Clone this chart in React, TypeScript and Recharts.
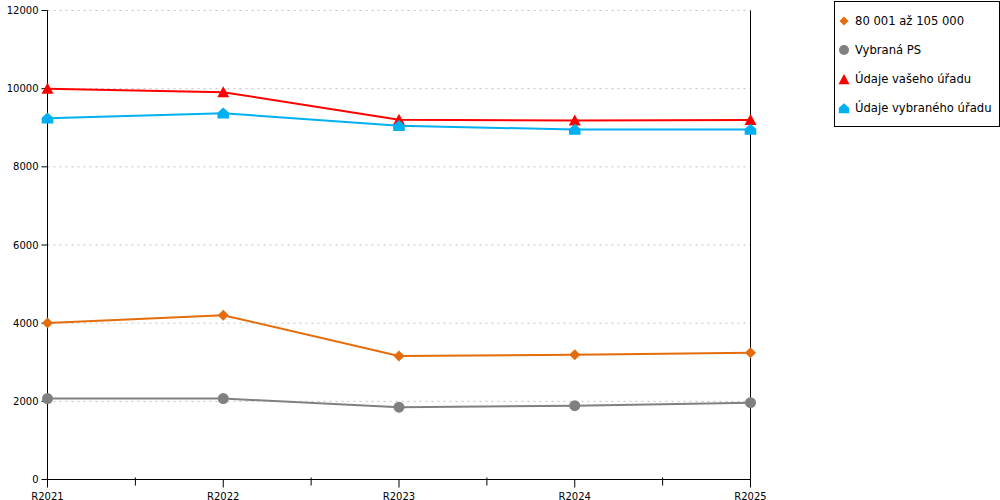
import { LineChart, Line, XAxis, YAxis, CartesianGrid, ReferenceLine } from 'recharts';

const years = ['R2021', 'R2022', 'R2023', 'R2024', 'R2025'];
const pasmo = [4005, 4205, 3160, 3195, 3240];
const vybranaPs = [2070, 2070, 1850, 1890, 1965];
const vasUrad = [10000, 9910, 9205, 9185, 9200];
const vybranyUrad = [9240, 9370, 9050, 8955, 8955];
const yTicks = [0, 2000, 4000, 6000, 8000, 10000, 12000];
const xTicks = [0, 0.5, 1, 1.5, 2, 2.5, 3, 3.5, 4];

const data = years.map((year, i) => ({
  i,
  year,
  pasmo: pasmo[i],
  vybranaPs: vybranaPs[i],
  vasUrad: vasUrad[i],
  vybranyUrad: vybranyUrad[i],
}));

const FONT = '"DejaVu Sans", Verdana, sans-serif';

const ORANGE = '#e46c0a';
const GRAY = '#808080';
const RED = '#ff0000';
const BLUE = '#00b0f0';

const diamond = (cx: number, cy: number, r: number) =>
  `${cx},${cy - r} ${cx + r},${cy} ${cx},${cy + r} ${cx - r},${cy}`;
const triangle = (cx: number, cy: number, r: number) =>
  `${cx},${cy - r} ${cx + r},${cy + r * 0.85} ${cx - r},${cy + r * 0.85}`;
const house = (cx: number, cy: number, r: number) =>
  `${cx},${cy - r} ${cx + r},${cy - r * 0.1} ${cx + r},${cy + r * 0.9} ${cx - r},${cy + r * 0.9} ${cx - r},${cy - r * 0.1}`;

const DiamondDot = (p: any) => <polygon key={p.index} points={diamond(p.cx, p.cy, 5.5)} fill={ORANGE} />;
const CircleDot = (p: any) => <circle key={p.index} cx={p.cx} cy={p.cy} r={5.5} fill={GRAY} />;
const TriangleDot = (p: any) => <polygon key={p.index} points={triangle(p.cx, p.cy, 6)} fill={RED} />;
const HouseDot = (p: any) => <polygon key={p.index} points={house(p.cx, p.cy, 5.8)} fill={BLUE} />;

const XTick = (p: any) => {
  const { x, y, payload } = p;
  const v = payload.value;
  if (Number.isInteger(v)) {
    return (
      <g>
        <line x1={x} x2={x} y1={y} y2={y + 8} stroke="#000" />
        <text x={x} y={y + 20} textAnchor="middle" fontSize={10} fontFamily={FONT} fill="#000">
          {years[v]}
        </text>
      </g>
    );
  }
  return <line x1={x} x2={x} y1={y - 2} y2={y + 6} stroke="#000" />;
};

const legendItems = [
  { label: '80 001 až 105 000', shape: 'diamond', color: ORANGE },
  { label: 'Vybraná PS', shape: 'circle', color: GRAY },
  { label: 'Údaje vašeho úřadu', shape: 'triangle', color: RED },
  { label: 'Údaje vybraného úřadu', shape: 'house', color: BLUE },
];

const LegendIcon = ({ shape, color }: { shape: string; color: string }) => (
  <svg width={12} height={12} style={{ display: 'block' }}>
    {shape === 'diamond' && <polygon points={diamond(6, 6, 4.5)} fill={color} />}
    {shape === 'circle' && <circle cx={6} cy={6} r={5} fill={color} />}
    {shape === 'triangle' && <polygon points={triangle(6, 6.5, 5.5)} fill={color} />}
    {shape === 'house' && <polygon points={house(6, 6.5, 5.2)} fill={color} />}
  </svg>
);

export default function App() {
  return (
    <div style={{ position: 'absolute', left: 0, top: 0, width: 1000, height: 500, background: '#fff' }}>
      <LineChart width={1000} height={500} data={data} margin={{ top: 10.5, right: 249.5, bottom: 0, left: 0.5 }}>
        <CartesianGrid vertical={false} stroke="#c0c0c0" strokeDasharray="2 4" />
        <XAxis
          dataKey="i"
          type="number"
          domain={[0, 4]}
          ticks={xTicks}
          interval={0}
          height={20.5}
          tickSize={0}
          tickMargin={0}
          tickLine={false}
          axisLine={{ stroke: '#000' }}
          tick={<XTick />}
        />
        <YAxis
          domain={[0, 12000]}
          ticks={yTicks}
          interval={0}
          width={47}
          tickSize={6}
          tickMargin={3}
          axisLine={{ stroke: '#000' }}
          tickLine={{ stroke: '#000' }}
          tick={{ fill: '#000', fontSize: 10, fontFamily: FONT }}
        />
        <ReferenceLine x={4} stroke="#000" strokeOpacity={1} />
        <Line type="linear" dataKey="vybranaPs" stroke={GRAY} strokeWidth={2} dot={CircleDot} activeDot={false} isAnimationActive={false} />
        <Line type="linear" dataKey="pasmo" stroke={ORANGE} strokeWidth={2} dot={DiamondDot} activeDot={false} isAnimationActive={false} />
        <Line type="linear" dataKey="vasUrad" stroke={RED} strokeWidth={2} dot={TriangleDot} activeDot={false} isAnimationActive={false} />
        <Line type="linear" dataKey="vybranyUrad" stroke={BLUE} strokeWidth={2} dot={HouseDot} activeDot={false} isAnimationActive={false} />
      </LineChart>
      <div
        style={{
          position: 'absolute',
          left: 834,
          top: 1,
          width: 164,
          height: 124,
          border: '1px solid #000',
          boxSizing: 'content-box',
          fontFamily: FONT,
          fontSize: 11.6,
          color: '#000',
        }}
      >
        {legendItems.map((it, k) => (
          <div
            key={it.label}
            style={{ position: 'absolute', left: 3, top: 11 + k * 29, height: 16, display: 'flex', alignItems: 'center', whiteSpace: 'nowrap' }}
          >
            <LegendIcon shape={it.shape} color={it.color} />
            <span style={{ marginLeft: 5, lineHeight: '16px' }}>{it.label}</span>
          </div>
        ))}
      </div>
    </div>
  );
}
